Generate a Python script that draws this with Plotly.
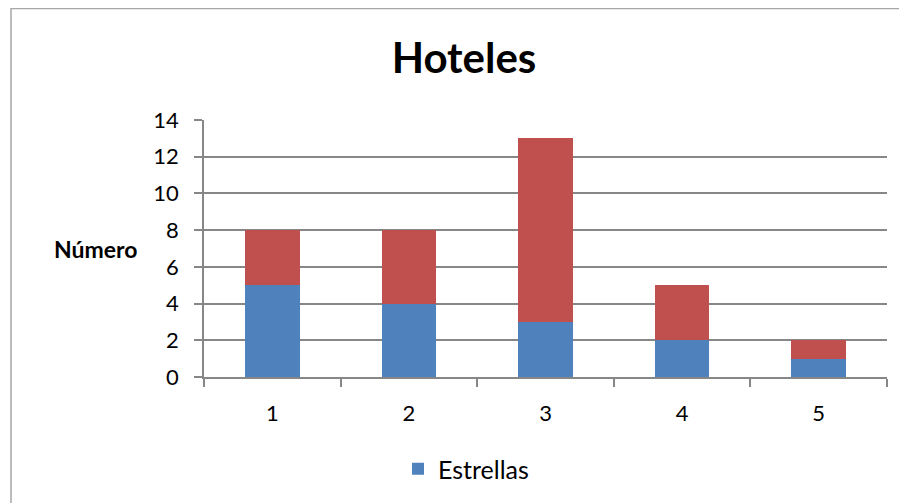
import plotly.graph_objects as go

categorias = ["1", "2", "3", "4", "5"]
estrellas = [5, 4, 3, 2, 1]
resto = [3, 4, 10, 3, 1]

# the page body adds an 8px margin, so target pixel positions are shifted by it
OFF = 8
W, H = 907 - OFF, 503 - OFF
L, R, T, B = 204 - OFF, 887 - OFF, 120 - OFF, 378 - OFF
pw, ph = R - L, B - T


def px_x(p):
    return (p - OFF - L) / pw


def px_y(p):
    return (B - (p - OFF)) / ph


FONT = "Lato, Open Sans, sans-serif"
GRAY = "#878787"

fig = go.Figure()
fig.add_trace(go.Bar(x=categorias, y=estrellas, name="Estrellas",
                     marker=dict(color="#4F81BD", line=dict(width=0)), width=0.4))
fig.add_trace(go.Bar(x=categorias, y=resto, name="",
                     marker=dict(color="#C0504D", line=dict(width=0)), width=0.4,
                     showlegend=False))

fig.update_layout(
    width=W, height=H, barmode="stack",
    margin=dict(l=L, r=W - R, t=T, b=H - B),
    paper_bgcolor="white", plot_bgcolor="white",
    font=dict(family=FONT, size=22, color="black"),
    title=dict(text="<b>Hoteles</b>", x=(464 - OFF) / W, xanchor="center",
               y=1 - (58 - OFF) / H, yanchor="middle", font=dict(size=42)),
    legend=dict(orientation="h", x=px_x(466), xanchor="center",
                y=px_y(469), yanchor="middle", font=dict(size=25)),
    showlegend=True,
)
fig.update_xaxes(type="category", range=[-0.5, 4.5], showline=True, linecolor=GRAY,
                 linewidth=1.5, ticks="outside", tickson="boundaries", ticklen=8,
                 tickcolor=GRAY, tickwidth=1.5, showgrid=False, ticklabelstandoff=16)
fig.update_yaxes(range=[0, 14], dtick=2, showline=True, linecolor=GRAY, linewidth=1.5,
                 ticks="outside", ticklen=8, tickcolor=GRAY, tickwidth=1.5,
                 gridcolor=GRAY, gridwidth=1.5, zeroline=False, ticklabelstandoff=11)
fig.add_annotation(text="<b>Número</b>", xref="paper", yref="paper",
                   x=px_x(95), y=px_y(250), xanchor="center", yanchor="middle",
                   showarrow=False, font=dict(size=23))
fig.add_shape(type="rect", xref="paper", yref="paper",
              x0=px_x(11), x1=px_x(930), y0=px_y(530), y1=px_y(8),
              line=dict(color="#a6a6a6", width=1.5), layer="below")

fig.write_html("out.html")
